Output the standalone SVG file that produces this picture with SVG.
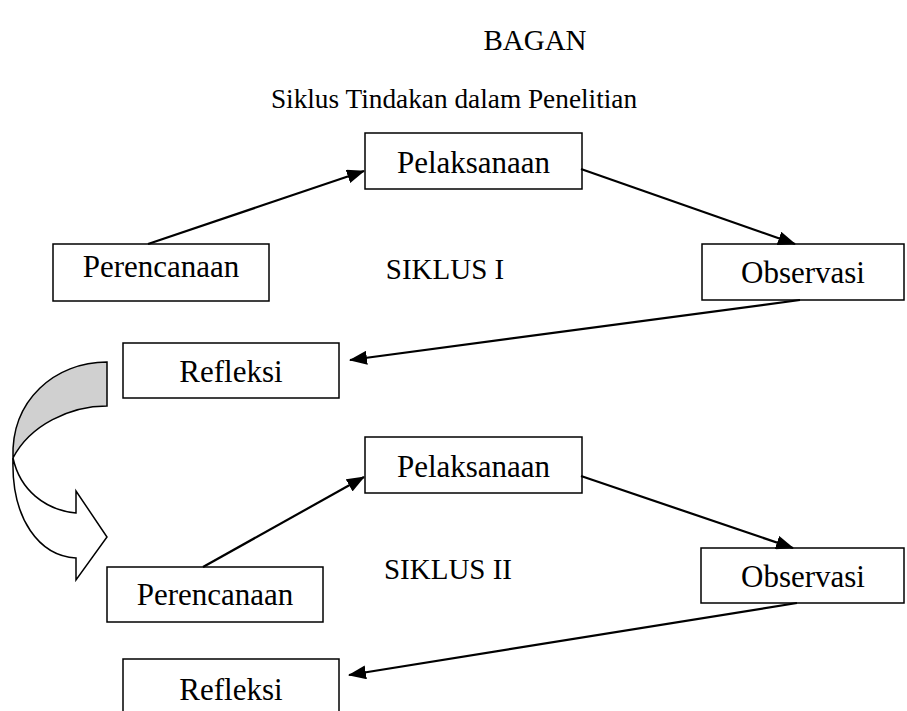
<svg xmlns="http://www.w3.org/2000/svg" width="907" height="711" viewBox="0 0 907 711">
<style>
text{font-family:"Liberation Serif","Times New Roman",serif;fill:#000}
.lbl{font-size:31px;text-anchor:middle}
.ttl{font-size:29px;text-anchor:middle}
.sub{font-size:27.3px;text-anchor:middle}
.box{fill:#fff;stroke:#000;stroke-width:1.5}
.con{stroke:#000;stroke-width:2.2;fill:none;marker-end:url(#ah)}
.curv{stroke:#000;stroke-width:1.5;stroke-linejoin:miter}
</style>
<defs>
<marker id="ah" markerUnits="userSpaceOnUse" markerWidth="18" markerHeight="14" refX="17" refY="7" orient="auto" viewBox="0 0 18 14">
<path d="M0,0 L18,7 L0,14 Z" fill="#000"/>
</marker>
</defs>
<rect width="907" height="711" fill="#fff"/>
<g id="title">
<text class="ttl" x="535" y="50">BAGAN</text>
<text class="sub" x="454" y="108">Siklus Tindakan dalam Penelitian</text>
</g>
<g id="siklus1-label"><text class="ttl" x="445" y="279">SIKLUS I</text></g>
<g id="siklus2-label"><text class="ttl" x="448" y="579">SIKLUS II</text></g>
<g id="pelaksanaan1"><rect class="box" x="365" y="133" width="217" height="56"/><text class="lbl" x="473.5" y="173">Pelaksanaan</text></g>
<g id="perencanaan1"><rect class="box" x="53" y="244" width="216" height="57"/><text class="lbl" x="161" y="277">Perencanaan</text></g>
<g id="observasi1"><rect class="box" x="702" y="244" width="202" height="56"/><text class="lbl" x="803" y="283">Observasi</text></g>
<g id="refleksi1"><rect class="box" x="123" y="343" width="216" height="55"/><text class="lbl" x="231" y="382">Refleksi</text></g>
<g id="pelaksanaan2"><rect class="box" x="365" y="437" width="217" height="56"/><text class="lbl" x="473.5" y="477">Pelaksanaan</text></g>
<g id="perencanaan2"><rect class="box" x="107" y="567" width="216" height="55"/><text class="lbl" x="215" y="605">Perencanaan</text></g>
<g id="observasi2"><rect class="box" x="701" y="548" width="203" height="55"/><text class="lbl" x="803" y="587">Observasi</text></g>
<g id="refleksi2"><rect class="box" x="123" y="659" width="216" height="60"/><text class="lbl" x="231" y="700">Refleksi</text></g>
<g id="curved-arrow">
<path class="curv" fill="#d0d0d0" d="M107,362 L107,406 C70,406 30,425 13,458 C11,400 55,362 107,362 Z"/>
<path class="curv" fill="#fff" d="M13,458 C11,520 40,556 76,558 L76,580 L107,537 L76,491 L76,513 C45,510 20,490 13,458 Z"/>
</g>
<g id="connectors">
<line class="con" x1="148" y1="244" x2="364" y2="171"/>
<line class="con" x1="581" y1="169" x2="795" y2="244"/>
<line class="con" x1="800" y1="300" x2="350" y2="360"/>
<line class="con" x1="203" y1="567" x2="364" y2="477"/>
<line class="con" x1="581" y1="476" x2="793" y2="548"/>
<line class="con" x1="797" y1="603" x2="349" y2="675"/>
</g>
</svg>
